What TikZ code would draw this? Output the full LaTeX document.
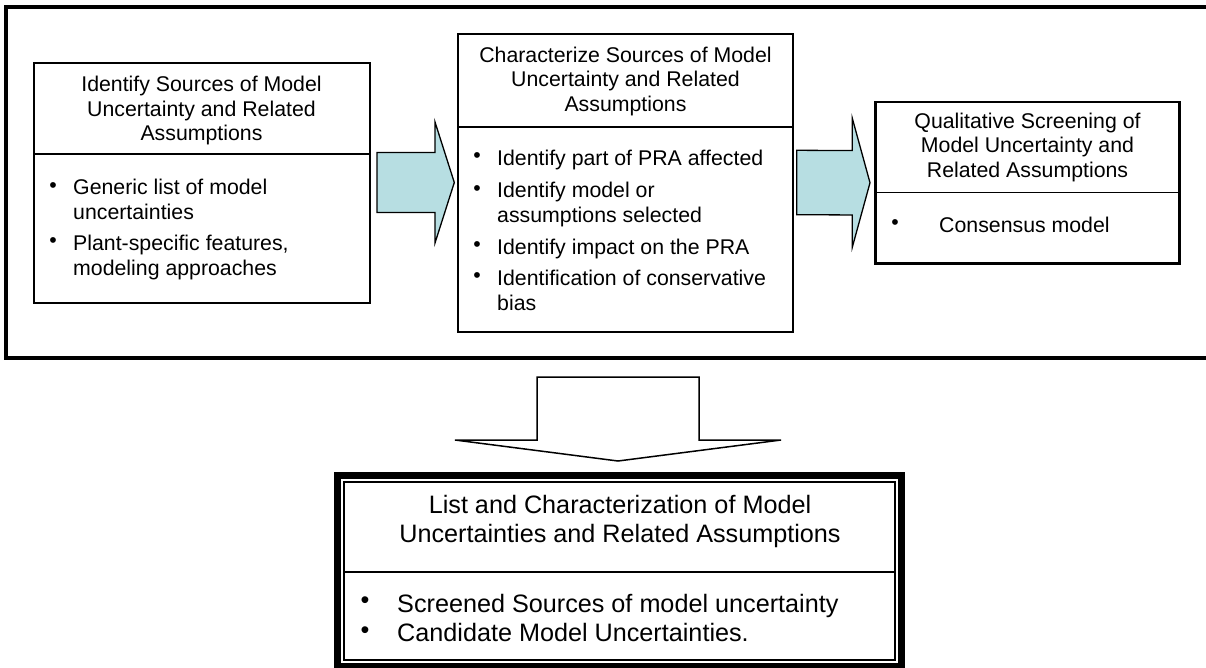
\documentclass[tikz,border=0pt]{standalone}
\usepackage{fontspec}
\setmainfont{Liberation Sans}
\usetikzlibrary{calc}
\definecolor{arrowteal}{RGB}{183,222,226}
\newcommand\bodyfont{\fontsize{21.3}{24.5}\selectfont}
\newcommand\bigfont{\fontsize{25.2}{29.3}\selectfont}
\begin{document}
\begin{tikzpicture}[x=1pt,y=-1pt,
  stepbox/.style={draw,line width=2pt,rectangle,inner sep=0pt,outer sep=0pt,anchor=north west},
  divider/.style={line width=1.6pt},
  blockarrow/.style={draw,line width=1.3pt,fill=arrowteal,line join=miter},
  openarrow/.style={draw,line width=1.5pt,fill=white,line join=miter},
  heading/.style={inner sep=0pt,anchor=base,align=center,font=\bodyfont},
  listitem/.style={inner sep=0pt,anchor=base west,align=left,font=\bodyfont},
  bulletmark/.style={inner sep=0pt,anchor=base,font=\bodyfont},
]
\useasboundingbox (0,0) rectangle (1206,667);
\clip (0,0) rectangle (1206,667);

% frame around the three analysis steps
\draw[line width=4pt] (1212,7) -- (6,7) -- (6,358) -- (1212,358);

% step 1 (multi-line texts are placed by the baseline of their last line)
\node[stepbox,minimum width=336pt,minimum height=240pt] (b1) at (33.5,62.5) {};
\draw[divider] (b1.west |- 0,154) -- (b1.east |- 0,154);
\node[heading] (t1) at (201.5,140.5) {Identify Sources of Model\\Uncertainty and Related\\Assumptions};
\node[bulletmark] (m11) at (53,192) {\textbullet};
\node[listitem] (i11) at (73,219.2) {Generic list of model\\uncertainties};
\node[bulletmark] (m12) at (53,247.7) {\textbullet};
\node[listitem] (i12) at (73,275) {Plant-specific features,\\modeling approaches};

% step 2
\node[stepbox,minimum width=334.5pt,minimum height=298pt] (b2) at (458,33.5) {};
\draw[divider] (b2.west |- 0,126.7) -- (b2.east |- 0,126.7);
\node[heading] (t2) at (625.5,111) {Characterize Sources of Model\\Uncertainty and Related\\Assumptions};
\node[bulletmark] (m21) at (477,162.7) {\textbullet};
\node[listitem] (i21) at (497,165.7) {Identify part of PRA affected};
\node[bulletmark] (m22) at (477,195.3) {\textbullet};
\node[listitem] (i22) at (497,222.2) {Identify model or\\assumptions selected};
\node[bulletmark] (m23) at (477,251) {\textbullet};
\node[listitem] (i23) at (497,254) {Identify impact on the PRA};
\node[bulletmark] (m24) at (477,282.7) {\textbullet};
\node[listitem] (i24) at (497,310) {Identification of conservative\\bias};

% step 3
\node[stepbox,line width=2.3pt,minimum width=304pt,minimum height=161.5pt] (b3) at (875.5,102) {};
\draw[divider] (b3.west |- 0,192.5) -- (b3.east |- 0,192.5);
\node[heading] (t3) at (1027.5,177.3) {Qualitative Screening of\\Model Uncertainty and\\Related Assumptions};
\node[bulletmark] (m31) at (895,229.3) {\textbullet};
\node[listitem] (i31) at (939,232.3) {Consensus model};

% block arrows between the steps
\coordinate (a1s) at ($(b1.east)+(7.5,0)$);
\coordinate (a1t) at ($(b2.west)+(-3.7,0)$);
\draw[blockarrow] ($(a1s)+(0,-30)$) -- ($(a1t)+(-19.3,-30)$) -- ($(a1t)+(-19.3,-60.5)$)
  -- (a1t) -- ($(a1t)+(-19.3,60.5)$) -- ($(a1t)+(-19.3,30)$) -- ($(a1s)+(0,30)$) -- cycle;
\coordinate (a2s) at ($(b2.east)+(4.2,0)$);
\coordinate (a2t) at ($(b3.west)+(-5.5,0)$);
\draw[blockarrow] ($(a2s)+(0,-32.2)$) -- ($(a2t)+(-17.7,-32.2)$) -- ($(a2t)+(-17.7,-64.5)$)
  -- (a2t) -- ($(a2t)+(-17.7,64.5)$) -- ($(a2t)+(-17.7,32.2)$) -- ($(a2s)+(0,32.2)$) -- cycle;

% result box with thick-thin border
\node[stepbox,line width=1.5pt,minimum width=551pt,minimum height=178pt] (b4) at (344,482) {};
\draw[line width=6.5pt] ($(b4.north west)+(-6.5,-6.5)$) rectangle ($(b4.south east)+(6.5,6.5)$);
\draw[line width=1.5pt] (b4.west |- 0,572) -- (b4.east |- 0,572);
\node[heading,font=\bigfont] (t4) at (620,542.7) {List and Characterization of Model\\Uncertainties and Related Assumptions};
\node[bulletmark,font=\bigfont] (m41) at (365,608.8) {\textbullet};
\node[listitem,font=\bigfont] (i41) at (397,612.3) {Screened Sources of model uncertainty};
\node[bulletmark,font=\bigfont] (m42) at (365,638.2) {\textbullet};
\node[listitem,font=\bigfont] (i42) at (397,641.7) {Candidate Model Uncertainties.};

% open arrow from the frame down to the result box
\coordinate (dtip) at ($(b4.north)+(-1.5,-21)$);
\draw[openarrow] ($(dtip)+(-81,-84)$) -- ($(dtip)+(81,-84)$) -- ($(dtip)+(81,-21)$)
  -- ($(dtip)+(163,-21)$) -- (dtip) -- ($(dtip)+(-163,-21)$) -- ($(dtip)+(-81,-21)$) -- cycle;
\end{tikzpicture}
\end{document}
